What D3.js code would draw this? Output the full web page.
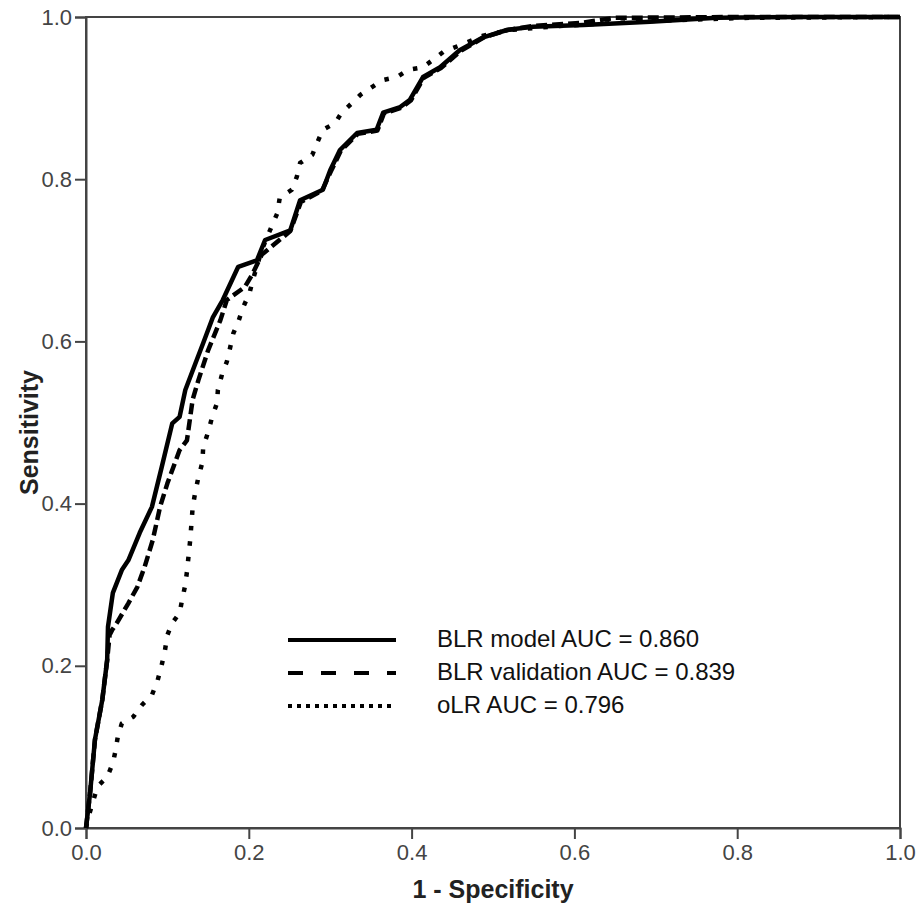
<!DOCTYPE html>
<html>
<head>
<meta charset="utf-8">
<script src="https://cdn.jsdelivr.net/npm/d3@7"></script>
<style>
  body { margin: 0; background: #fff; }
  text { font-family: Arial, "Liberation Sans", sans-serif; }
</style>
</head>
<body>
<div id="roc-chart"></div>
<script>
// ROC data (1 - specificity, sensitivity)
const blrModelFpr = [0, 0.005, 0.011, 0.020, 0.026, 0.027, 0.033, 0.044, 0.052, 0.066, 0.081, 0.093, 0.106, 0.115, 0.122, 0.136, 0.144, 0.156, 0.168, 0.187, 0.210, 0.220, 0.251, 0.263, 0.291, 0.300, 0.312, 0.333, 0.357, 0.365, 0.386, 0.398, 0.414, 0.435, 0.459, 0.488, 0.517, 0.549, 0.611, 0.693, 0.775, 0.877, 1];
const blrModelTpr = [0, 0.043, 0.109, 0.158, 0.207, 0.248, 0.290, 0.318, 0.330, 0.364, 0.396, 0.445, 0.499, 0.507, 0.540, 0.577, 0.598, 0.630, 0.651, 0.692, 0.700, 0.725, 0.737, 0.774, 0.787, 0.811, 0.836, 0.857, 0.861, 0.882, 0.889, 0.898, 0.926, 0.938, 0.959, 0.975, 0.984, 0.988, 0.990, 0.994, 0.999, 1, 1];

const blrValidFpr = [0, 0.005, 0.011, 0.020, 0.026, 0.029, 0.032, 0.038, 0.052, 0.063, 0.072, 0.082, 0.091, 0.100, 0.115, 0.124, 0.131, 0.138, 0.150, 0.165, 0.173, 0.195, 0.204, 0.216, 0.251, 0.264, 0.290, 0.301, 0.313, 0.334, 0.358, 0.366, 0.387, 0.399, 0.415, 0.436, 0.460, 0.489, 0.518, 0.550, 0.610, 0.650, 0.800, 1];
const blrValidTpr = [0, 0.043, 0.109, 0.158, 0.207, 0.238, 0.244, 0.253, 0.277, 0.297, 0.322, 0.355, 0.396, 0.425, 0.466, 0.478, 0.528, 0.552, 0.589, 0.626, 0.651, 0.667, 0.682, 0.707, 0.736, 0.772, 0.786, 0.810, 0.835, 0.856, 0.860, 0.881, 0.888, 0.897, 0.925, 0.937, 0.958, 0.975, 0.984, 0.989, 0.993, 0.999, 1, 1];

const olrFpr = [0, 0.002, 0.014, 0.026, 0.033, 0.036, 0.039, 0.044, 0.058, 0.069, 0.081, 0.088, 0.093, 0.097, 0.100, 0.106, 0.115, 0.118, 0.122, 0.124, 0.128, 0.131, 0.134, 0.138, 0.143, 0.144, 0.150, 0.155, 0.161, 0.162, 0.167, 0.173, 0.177, 0.181, 0.187, 0.193, 0.201, 0.205, 0.216, 0.229, 0.235, 0.238, 0.253, 0.259, 0.263, 0.278, 0.284, 0.291, 0.306, 0.314, 0.327, 0.337, 0.349, 0.364, 0.382, 0.396, 0.414, 0.426, 0.439, 0.459, 0.488, 0.521, 0.582, 0.693, 0.816, 1];
const olrTpr = [0, 0.010, 0.051, 0.063, 0.080, 0.094, 0.112, 0.129, 0.137, 0.152, 0.164, 0.182, 0.201, 0.219, 0.238, 0.253, 0.265, 0.281, 0.300, 0.316, 0.355, 0.395, 0.413, 0.432, 0.451, 0.470, 0.488, 0.507, 0.524, 0.540, 0.559, 0.575, 0.592, 0.610, 0.624, 0.642, 0.660, 0.676, 0.713, 0.744, 0.758, 0.777, 0.787, 0.803, 0.820, 0.830, 0.845, 0.861, 0.869, 0.882, 0.894, 0.904, 0.912, 0.922, 0.926, 0.935, 0.938, 0.947, 0.957, 0.965, 0.977, 0.984, 0.989, 0.995, 0.999, 1];

const legendLabels = ["BLR model AUC = 0.860", "BLR validation AUC = 0.839", "oLR AUC = 0.796"];
const tickValues = [0, 0.2, 0.4, 0.6, 0.8, 1.0];

const margin = {top: 17, right: 17, bottom: 78, left: 86},
      width = 917 - margin.left - margin.right,
      height = 906 - margin.top - margin.bottom;

const svg = d3.select("#roc-chart")
              .append("svg")
              .attr("width", 917)
              .attr("height", 906)
              .append("g")
              .attr("transform", `translate(${margin.left},${margin.top})`);

const x = d3.scaleLinear().domain([0, 1]).range([0, width]);
const y = d3.scaleLinear().domain([0, 1]).range([height, 0]);

// Frame (top and right borders)
svg.append("rect")
   .attr("x", 0).attr("y", 0)
   .attr("width", width).attr("height", height)
   .attr("fill", "none")
   .attr("stroke", "#444")
   .attr("stroke-width", 2);

// Axes
const xAxis = svg.append("g")
   .attr("transform", `translate(0,${height})`)
   .call(d3.axisBottom(x).tickValues(tickValues).tickFormat(d3.format(".1f")).tickSize(11).tickPadding(5));

const yAxis = svg.append("g")
   .call(d3.axisLeft(y).tickValues(tickValues).tickFormat(d3.format(".1f")).tickSize(11).tickPadding(3));

[xAxis, yAxis].forEach(a => {
    a.attr("font-size", 22).attr("font-family", "Arial, 'Liberation Sans', sans-serif");
    a.select(".domain").attr("stroke", "#444").attr("stroke-width", 2);
    a.selectAll(".tick line").attr("stroke", "#444").attr("stroke-width", 2);
    a.selectAll(".tick text").attr("fill", "#444");
});

// Curves
const series = [
    {fpr: blrModelFpr, tpr: blrModelTpr, dash: null},
    {fpr: blrValidFpr, tpr: blrValidTpr, dash: "11,5"},
    {fpr: olrFpr, tpr: olrTpr, dash: "4.5,11"}
];

const line = d3.line()
               .x(d => x(d[0]))
               .y(d => y(d[1]));

svg.selectAll("path.roc")
   .data(series.slice().reverse())
   .enter()
   .append("path")
   .attr("class", "roc")
   .attr("d", s => line(s.fpr.map((f, i) => [f, s.tpr[i]])))
   .attr("fill", "none")
   .attr("stroke", "#000")
   .attr("stroke-width", 4.5)
   .attr("stroke-linejoin", "round")
   .attr("stroke-dasharray", s => s.dash);

// Axis titles
svg.append("text")
   .attr("x", width / 2)
   .attr("y", height + 70)
   .attr("text-anchor", "middle")
   .style("font-size", "25px")
   .style("font-weight", "bold")
   .attr("fill", "#222")
   .text("1 - Specificity");

svg.append("text")
   .attr("transform", "rotate(-90)")
   .attr("x", -height / 2 - 10)
   .attr("y", -48)
   .attr("text-anchor", "middle")
   .style("font-size", "25px")
   .style("font-weight", "bold")
   .attr("fill", "#222")
   .text("Sensitivity");

// Legend
const legendDash = [null, "15,18", "4,5"];
const legend = svg.append("g")
                  .attr("transform", `translate(${288 - margin.left}, ${640 - margin.top})`)
                  .selectAll("g")
                  .data(legendLabels)
                  .enter()
                  .append("g")
                  .attr("transform", (d, i) => `translate(0, ${i * 33})`);

legend.append("line")
      .attr("x1", 0).attr("x2", 108)
      .attr("y1", 0).attr("y2", 0)
      .attr("stroke", "#000")
      .attr("stroke-width", 4)
      .attr("stroke-dasharray", (d, i) => legendDash[i]);

legend.append("text")
      .attr("x", 149)
      .attr("y", 7)
      .style("font-size", "24px")
      .attr("fill", "#111")
      .text(d => d);
</script>
</body>
</html>
